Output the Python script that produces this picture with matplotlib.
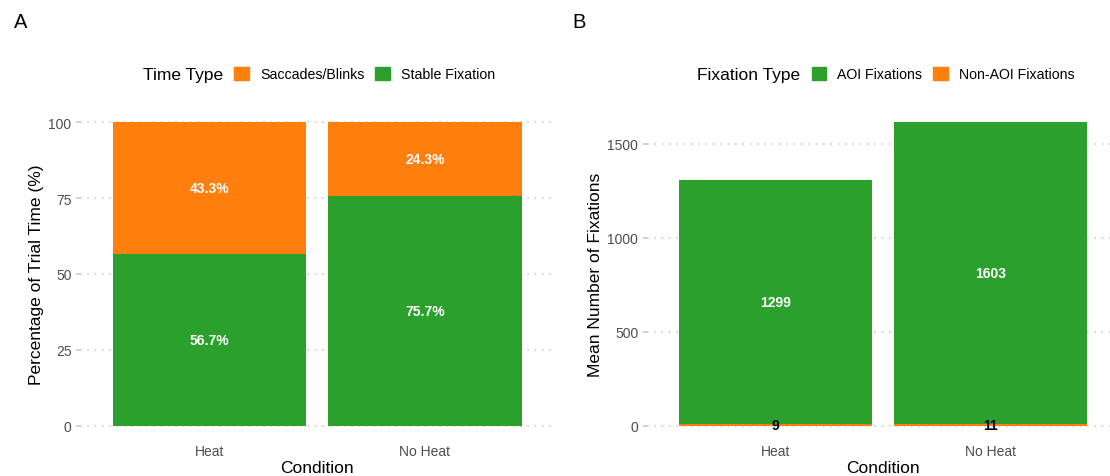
import matplotlib
matplotlib.use("Agg")
import matplotlib.pyplot as plt
import matplotlib.patches as mpatches
import numpy as np

plt.rcParams["font.family"] = ["Liberation Sans", "DejaVu Sans"]

# panel A: share of trial time
conditions = ["Heat", "No Heat"]
stable_pct = [56.7, 75.7]
saccade_pct = [43.3, 24.3]

# panel B: mean fixation counts
aoi_fix = [1299, 1603]
nonaoi_fix = [9, 11]

ORANGE = "#FF7F0E"
GREEN = "#2CA02C"
GRID = "#C4C4C4"
TICK_TXT = "#4D4D4D"

W, H = 1110, 477


def _px_axes(fig, left, right, top, bottom):
    return fig.add_axes([left / W, 1 - bottom / H, (right - left) / W, (bottom - top) / H])


def _style(ax, ymax, yticks):
    x = np.arange(1, len(conditions) + 1)
    ax.set_xlim(0.4, len(conditions) + 0.6)
    ax.set_ylim(-0.05 * ymax, 1.05 * ymax)
    ax.set_xticks(x)
    ax.set_xticklabels(conditions)
    ax.set_yticks(yticks)
    for s in ax.spines.values():
        s.set_visible(False)
    ax.set_axisbelow(True)
    ax.yaxis.grid(True, color=GRID, linestyle=(0, (1, 3.8)), linewidth=1.1)
    ax.tick_params(axis="x", length=0, pad=2.5, labelsize=10, labelcolor=TICK_TXT)
    ax.tick_params(axis="y", length=3.2, width=1.1, color=GRID, pad=3,
                   labelsize=10, labelcolor=TICK_TXT)
    ax.set_xlabel("Condition", fontsize=12.5, labelpad=1.5)
    return x


def _legend(fig, title, title_x, key_x, handles):
    yc = 1 - 75 / H
    fig.text(title_x / W, 1 - 80 / H, title, fontsize=12.5, ha="left", va="baseline")
    fig.legend(handles=handles, loc="center left", bbox_to_anchor=(key_x / W, yc),
               bbox_transform=fig.transFigure, ncol=len(handles), frameon=False,
               borderpad=0, borderaxespad=0, fontsize=10.2, handlelength=1.05,
               handleheight=1.05, handletextpad=0.78, columnspacing=0.77)


fig = plt.figure(figsize=(W / 100, H / 100), dpi=100)

# ---- A
axA = _px_axes(fig, 80.2, 554.0, 108.1, 441.9)
x = _style(axA, 100, [0, 25, 50, 75, 100])
axA.bar(x, stable_pct, width=0.9, color=GREEN)
axA.bar(x, saccade_pct, width=0.9, bottom=stable_pct, color=ORANGE)
for xi, st, sa in zip(x, stable_pct, saccade_pct):
    axA.text(xi, st / 2, f"{st:.1f}%", ha="center", va="center", color="white",
             fontsize=10, fontweight="bold")
    axA.text(xi, st + sa / 2, f"{sa:.1f}%", ha="center", va="center", color="white",
             fontsize=10, fontweight="bold")
axA.set_ylabel("Percentage of Trial Time (%)", fontsize=12.5, labelpad=3)
_legend(fig, "Time Type", 143, 234, [
    mpatches.Patch(color=ORANGE, label="Saccades/Blinks"),
    mpatches.Patch(color=GREEN, label="Stable Fixation"),
])

# ---- B
totals = [a + n for a, n in zip(aoi_fix, nonaoi_fix)]
axB = _px_axes(fig, 646.9, 1119.4, 108.1, 441.9)
x = _style(axB, max(totals), [0, 500, 1000, 1500])
axB.bar(x, nonaoi_fix, width=0.9, color=ORANGE)
axB.bar(x, aoi_fix, width=0.9, bottom=nonaoi_fix, color=GREEN)
for xi, a, n in zip(x, aoi_fix, nonaoi_fix):
    axB.text(xi, n + a / 2, f"{a}", ha="center", va="center", color="white",
             fontsize=10, fontweight="bold")
    axB.text(xi, n / 2, f"{n}", ha="center", va="center", color="black",
             fontsize=10, fontweight="bold")
axB.set_ylabel("Mean Number of Fixations", fontsize=12.5, labelpad=3)
_legend(fig, "Fixation Type", 697, 811.5, [
    mpatches.Patch(color=GREEN, label="AOI Fixations"),
    mpatches.Patch(color=ORANGE, label="Non-AOI Fixations"),
])

fig.text(14 / W, 1 - 23 / H, "A", fontsize=14.5, ha="left", va="center")
fig.text(572 / W, 1 - 23 / H, "B", fontsize=14.5, ha="left", va="center")

fig.savefig("out.png", dpi=100)
